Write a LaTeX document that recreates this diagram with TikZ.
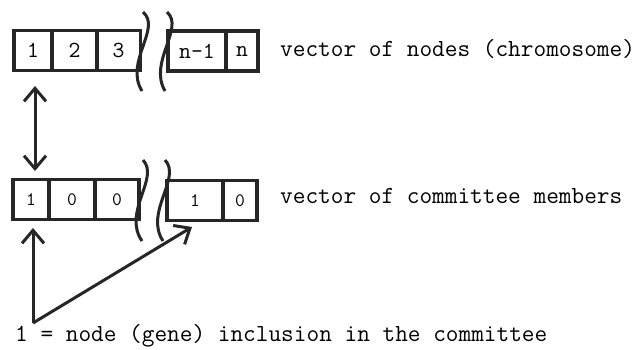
\documentclass[tikz,border=0pt]{standalone}
\usepackage{fontspec}
\usetikzlibrary{arrows.meta}
\begin{document}
\begin{tikzpicture}[x=1pt,y=-1pt,
  cell/.style={draw=black!85,line width=3.8pt,rectangle,inner sep=0pt,minimum height=40pt,font=\ttfamily\fontsize{23}{23}\selectfont},
  bcell/.style={cell,font=\ttfamily\fontsize{19}{19}\selectfont},
  lbl/.style={anchor=west,inner sep=0pt,font=\ttfamily\fontsize{24.6}{24.6}\selectfont},
  wave/.style={line width=3pt,black!85},
  arr/.style={line width=3pt,black!85,-{Straight Barb[length=13pt,width=22pt,line width=3pt]}},
  darr/.style={line width=3pt,black!85,{Straight Barb[length=13pt,width=22pt,line width=3pt]}-{Straight Barb[length=13pt,width=22pt,line width=3pt]}}]
\useasboundingbox (0,0) rectangle (637,349);
% top row
\node[cell,minimum width=38pt] (t1) at (33,50.5) {1};
\node[cell,minimum width=45pt] (t2) at (74.5,50.5) {2};
\node[cell,minimum width=44pt] (t3) at (118.5,50.5) {3};
\node[cell,minimum width=58pt] (tn1) at (197,51) {n-1};
\node[cell,minimum width=32pt] (tn) at (242,51) {n};
% bottom row
\node[bcell,minimum width=36pt] (b1) at (31,199.5) {1};
\node[bcell,minimum width=46pt] (b2) at (72,199.5) {0};
\node[bcell,minimum width=44pt] (b3) at (117,199.5) {0};
\node[bcell,minimum width=56pt] (b4) at (195,200.5) {1};
\node[bcell,minimum width=34pt] (b5) at (240,200.5) {0};
% waves
\draw[wave] (143,12) .. controls (162,28) and (124,62) .. (142,91);
\draw[wave] (167,12) .. controls (185,28) and (148,62) .. (165,91);
\draw[wave] (143,160) .. controls (160,178) and (122,212) .. (142,241);
\draw[wave] (165,160) .. controls (182,178) and (144,212) .. (163,241);
% labels
\node[lbl] (l1) at (280,49) {vector of nodes (chromosome)};
\node[lbl] (l2) at (280,196) {vector of committee members};
\node[lbl] (l3) at (15,336) {1 = node (gene) inclusion in the committee};
% arrows
\coordinate (c) at (33,323);
\coordinate (ta) at (35,86);
\coordinate (tb) at (35,171);
\draw[darr] (ta) -- (tb);
\coordinate (v) at (33,228);
\coordinate (d) at (192,227);
\draw[arr] (c) -- (v);
\draw[arr] (c) -- (d);
\end{tikzpicture}
\end{document}
